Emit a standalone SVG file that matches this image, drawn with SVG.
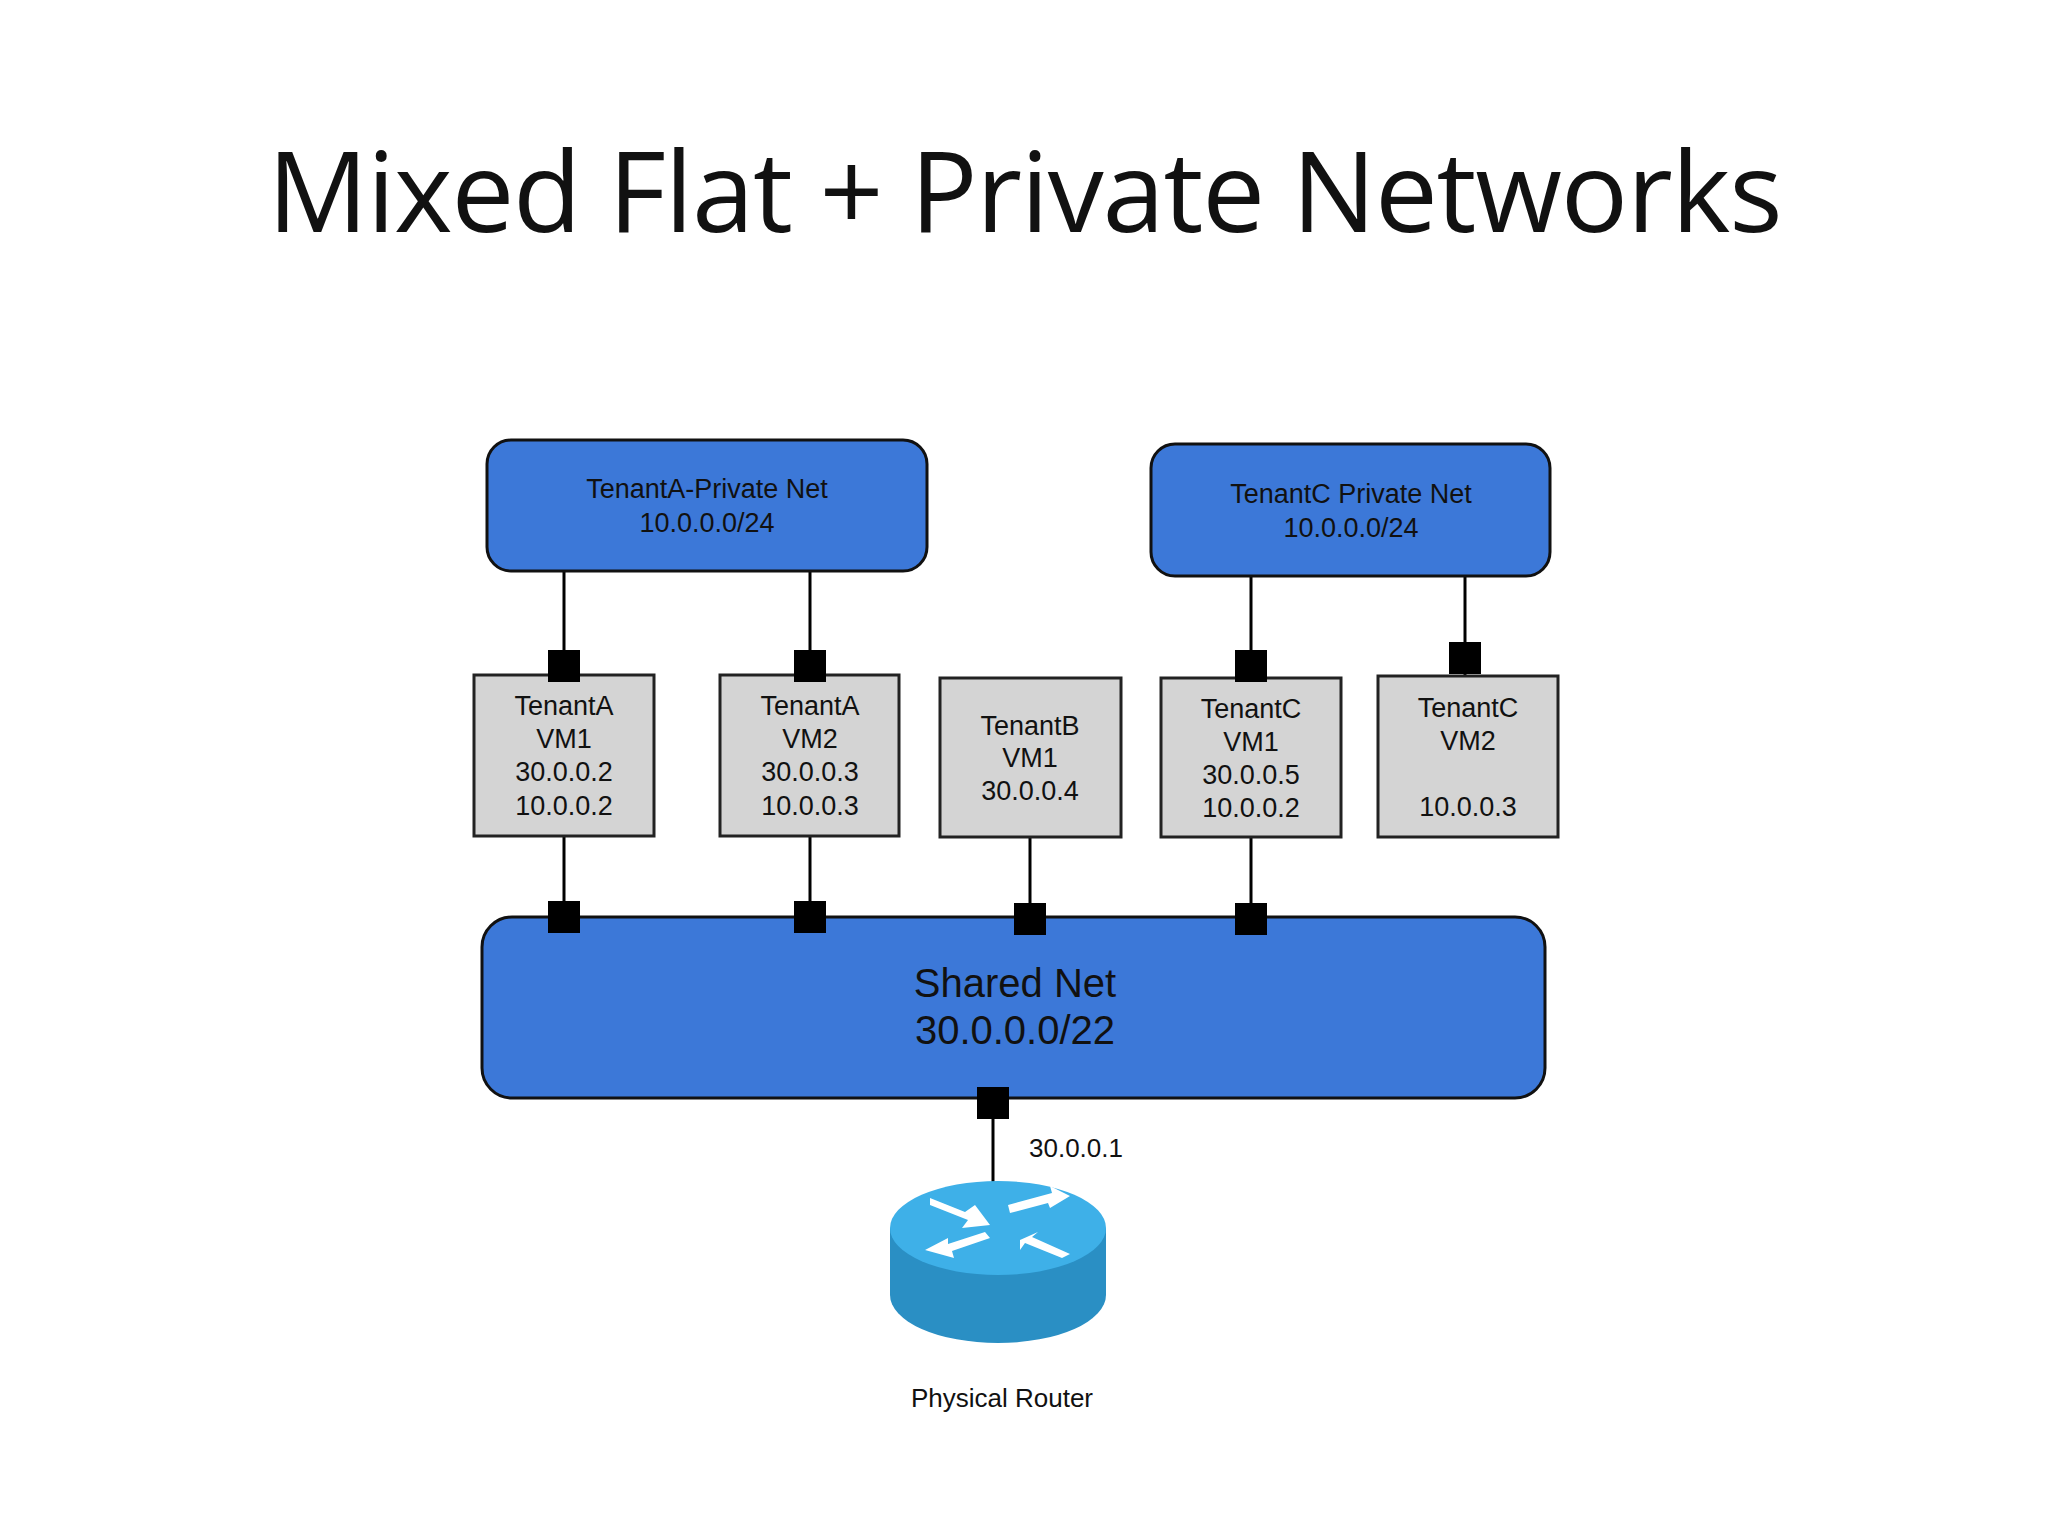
<svg xmlns="http://www.w3.org/2000/svg" width="2048" height="1536" viewBox="0 0 2048 1536">
<style>
.net{fill:#3c78d8;stroke:#111;stroke-width:3}
.vm{fill:#d4d4d4;stroke:#222;stroke-width:3}
.t{font-family:"Liberation Sans",Arial,sans-serif;fill:#111;text-anchor:middle}
.s{font-size:27px}
.port{fill:#000}
.c line{stroke:#000;stroke-width:3}
</style>
<rect width="2048" height="1536" fill="#fff"/>
<text x="1025" y="232" class="t" font-family="'Open Sans',sans-serif" style="font-family:'Open Sans',sans-serif" font-size="112" textLength="1515">Mixed Flat + Private Networks</text>
<g class="c" id="connectors">
<line x1="564" y1="571" x2="564" y2="917"/>
<line x1="810" y1="571" x2="810" y2="917"/>
<line x1="1030" y1="837" x2="1030" y2="917"/>
<line x1="1251" y1="576" x2="1251" y2="917"/>
<line x1="1465" y1="576" x2="1465" y2="675"/>
<line x1="993" y1="1098" x2="993" y2="1190"/>
</g>
<g id="tenantA-net"><rect class="net" x="487" y="440" width="440" height="131" rx="24"/>
<text class="t s" x="707" y="498">TenantA-Private Net</text><text class="t s" x="707" y="532">10.0.0.0/24</text></g>
<g id="tenantC-net"><rect class="net" x="1151" y="444" width="399" height="132" rx="24"/>
<text class="t s" x="1351" y="503">TenantC Private Net</text><text class="t s" x="1351" y="537">10.0.0.0/24</text></g>
<g id="vmA1"><rect class="vm" x="474" y="675" width="180" height="161"/>
<text class="t s" x="564" y="715">TenantA</text><text class="t s" x="564" y="748">VM1</text><text class="t s" x="564" y="781">30.0.0.2</text><text class="t s" x="564" y="815">10.0.0.2</text></g>
<g id="vmA2"><rect class="vm" x="720" y="675" width="179" height="161"/>
<text class="t s" x="810" y="715">TenantA</text><text class="t s" x="810" y="748">VM2</text><text class="t s" x="810" y="781">30.0.0.3</text><text class="t s" x="810" y="815">10.0.0.3</text></g>
<g id="vmB1"><rect class="vm" x="940" y="678" width="181" height="159"/>
<text class="t s" x="1030" y="735">TenantB</text><text class="t s" x="1030" y="767">VM1</text><text class="t s" x="1030" y="800">30.0.0.4</text></g>
<g id="vmC1"><rect class="vm" x="1161" y="678" width="180" height="159"/>
<text class="t s" x="1251" y="718">TenantC</text><text class="t s" x="1251" y="751">VM1</text><text class="t s" x="1251" y="784">30.0.0.5</text><text class="t s" x="1251" y="817">10.0.0.2</text></g>
<g id="vmC2"><rect class="vm" x="1378" y="676" width="180" height="161"/>
<text class="t s" x="1468" y="717">TenantC</text><text class="t s" x="1468" y="750">VM2</text><text class="t s" x="1468" y="816">10.0.0.3</text></g>
<g id="shared-net"><rect class="net" x="482" y="917" width="1063" height="181" rx="30"/>
<text class="t" font-size="40" x="1015" y="997">Shared Net</text><text class="t" font-size="40" x="1015" y="1044">30.0.0.0/22</text></g>
<g id="ports">
<rect class="port" x="548" y="650" width="32" height="32"/><rect class="port" x="794" y="650" width="32" height="32"/>
<rect class="port" x="1235" y="650" width="32" height="32"/><rect class="port" x="1449" y="642" width="32" height="32"/>
<rect class="port" x="548" y="901" width="32" height="32"/><rect class="port" x="794" y="901" width="32" height="32"/>
<rect class="port" x="1014" y="903" width="32" height="32"/><rect class="port" x="1235" y="903" width="32" height="32"/>
<rect class="port" x="977" y="1087" width="32" height="32"/>
</g>
<text class="t" font-size="26" x="1076" y="1157">30.0.0.1</text>
<g id="router">
<path d="M890 1228 L890 1295 A108 48 0 0 0 1106 1295 L1106 1228 Z" fill="#2a8fc4"/>
<ellipse cx="998" cy="1228" rx="108" ry="47" fill="#3eb0e8"/>
<g fill="#fff">
<polygon points="930,1198 965,1212 975,1205 990,1225 962,1228 968,1220 930,1205"/>
<polygon points="1070,1196 1050,1186 1052,1193 1008,1205 1010,1213 1048,1203 1050,1208"/>
<polygon points="925,1250 948,1238 948,1244 985,1232 990,1238 952,1251 954,1258"/>
<polygon points="1020,1240 1038,1232 1032,1237 1070,1254 1062,1258 1025,1243 1020,1250"/>
</g>
</g>
<text class="t" font-size="26" x="1002" y="1407">Physical Router</text>
</svg>
